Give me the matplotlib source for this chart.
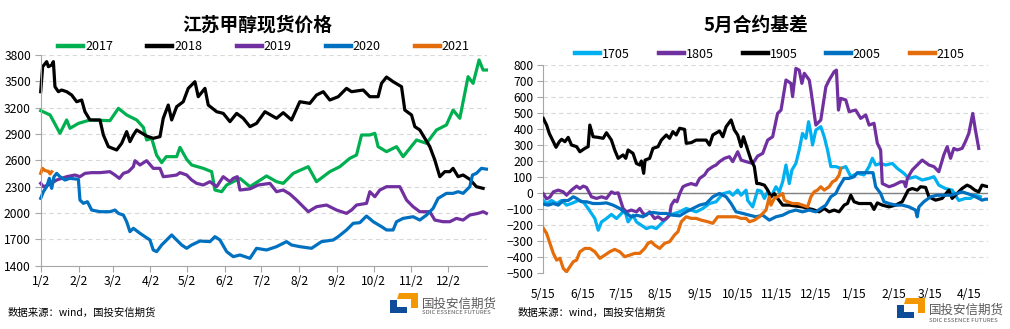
import matplotlib
matplotlib.use("Agg")
import matplotlib.pyplot as plt
from matplotlib.patches import Polygon
from matplotlib.lines import Line2D

plt.rcParams['font.family'] = ['Noto Sans CJK SC', 'DejaVu Sans']

# ---------------- Left chart data: 江苏甲醇现货价格 (day offset from 1/2) ----------------
left_tick_days = [0, 31, 59, 90, 120, 151, 181, 212, 243, 273, 304, 334]
left_tick_labels = ["1/2", "2/2", "3/2", "4/2", "5/2", "6/2", "7/2", "8/2", "9/2", "10/2", "11/2", "12/2"]

d2017 = [0, 7.7, 15.8, 21.3, 24, 30.9, 40.4, 56.8, 63.7, 70.5, 78.7, 84.2, 86.9, 91, 95, 99.2, 103, 111.5,
         114.2, 119.7, 123.8, 133.3, 140.2, 142.9, 148.4, 152.5, 157.9, 163.4, 171.6, 185.2, 193.4, 198.9,
         207.1, 219.4, 226.2, 237.1, 245.3, 253.5, 259, 263.1, 269.9, 274, 276.7, 283.6, 291.8, 297.2,
         302.7, 308.2, 316.4, 324.6, 332.7, 338.2, 343.7, 350.5, 354.6, 359.5, 362.8, 365.5]
v2017 = [3166, 3117, 2908, 3060, 2965, 3021, 3060, 3052, 3192, 3117, 3060, 2976, 2832, 2851, 2661, 2574, 2642, 2642,
         2748, 2612, 2547, 2509, 2471, 2262, 2243, 2319, 2357, 2395, 2300, 2422, 2357, 2338,
         2452, 2528, 2357, 2471, 2528, 2623, 2661, 2889, 2889, 2908, 2756, 2699, 2756, 2642,
         2737, 2832, 2794, 2946, 3003, 3173, 3079, 3553, 3477, 3743, 3629, 3629]

d2018 = [0, 1.6, 4.9, 6.3, 9, 10.4, 11.7, 14.5, 17.2, 21.3, 25.4, 29.5, 33.6, 36.3, 40.4, 48.6, 51.4, 55.5,
         62.3, 66.4, 70.5, 73.2, 76, 78.7, 86.9, 92.3, 97.8, 100.5, 104.6, 107.4, 111.5, 116.9, 121, 126.5,
         129.2, 134.7, 137.4, 144.3, 149.7, 155.2, 160.7, 166.1, 171.6, 177, 183.9, 193.4, 198.9, 205.7,
         212.5, 220.7, 226.2, 231.7, 237.1, 244, 250.8, 254.9, 264.5, 269.9, 276.7, 279.5, 283.6, 289,
         295.9, 298.6, 304.1, 306.8, 310.9, 315, 319.1, 323.2, 327.3, 331.4, 335.5, 338.2, 342.3, 346.4,
         351.9, 357.3, 362.8]
v2018 = [3382, 3667, 3724, 3667, 3686, 3724, 3439, 3382, 3401, 3382, 3344, 3268, 3287, 3154, 3060, 3060, 2889, 2756,
         2718, 2794, 2927, 2813, 2889, 2946, 2877, 2851, 2870, 3079, 3230, 3060, 3211, 3268, 3420, 3496,
         3325, 3420, 3230, 3154, 3135, 3041, 3135, 3079, 2984, 3021, 3154, 3079, 3143, 3060,
         3268, 3249, 3344, 3382, 3287, 3325, 3420, 3382, 3401, 3325, 3325, 3477, 3549, 3496,
         3439, 3173, 3117, 2984, 2946, 2851, 2756, 2604, 2414, 2471, 2471, 2509, 2414, 2433,
         2384, 2300, 2281]

d2019 = [0, 2.2, 6.3, 13.1, 21.3, 28.1, 32.2, 36.3, 41.8, 48.6, 56.8, 60.9, 64.5, 67.8, 71.9, 76, 77.3, 81.4,
         86.9, 92.3, 97.8, 100.5, 106, 111.5, 114.2, 119.7, 123.8, 127.9, 133.3, 138.8, 144.3, 149.7, 155.2,
         157.9, 161.2, 163.4, 171.6, 178.4, 188, 193.4, 198.9, 204.3, 209.8, 215.3, 219.4, 226.2, 234.4,
         242.6, 250.8, 254.9, 259, 267.2, 269.9, 274, 278.1, 283.6, 294.5, 300, 305.4, 310.9, 319.1, 323.2,
         330, 335.5, 340.9, 346.4, 351.9, 358.7, 362.8, 365.5]
v2019 = [2338, 2300, 2319, 2376, 2414, 2433, 2414, 2452, 2460, 2460, 2471, 2433, 2395, 2452, 2471, 2528, 2596, 2547,
         2596, 2509, 2509, 2414, 2422, 2433, 2460, 2433, 2376, 2338, 2319, 2357, 2300, 2414, 2357,
         2395, 2414, 2262, 2275, 2319, 2338, 2243, 2262, 2217, 2148, 2072, 2015, 2072, 2091,
         2034, 1996, 2034, 2091, 2110, 2243, 2186, 2262, 2300, 2300, 2148, 2072, 2015, 2015, 1920,
         1901, 1901, 1939, 1920, 1977, 1996, 2015, 1996]

d2020 = [0, 2.2, 4.9, 7.1, 9, 10.9, 13.1, 15.8, 19.9, 24, 30.9, 32.2, 35, 38.3, 41.8, 48.6, 56.8, 60.9, 63.7,
         67.8, 70.5, 73.2, 76, 81.4, 85.5, 89.6, 92.3, 95.1, 99.2, 107.4, 110.1, 115.6, 119.7, 123.8, 130.6,
         138.8, 142.9, 147, 152.5, 157.9, 163.4, 171.6, 177, 185.2, 193.4, 201.6, 205.7, 212.5, 222.1,
         230.3, 239.9, 244, 250.8, 256.3, 261.7, 267.2, 272.7, 279.5, 283.6, 289, 291.8, 297.2, 305.4,
         310.9, 316.4, 321.8, 325.9, 332.7, 338.2, 342.3, 346.4, 351.9, 354.1, 357.3, 361.4, 365.5]
v2020 = [2167, 2243, 2300, 2395, 2281, 2414, 2452, 2414, 2376, 2395, 2384, 2148, 2110, 2129, 2034, 2015, 2015, 2034, 1996,
         1977, 1901, 1788, 1826, 1769, 1731, 1693, 1579, 1560, 1636, 1750, 1712, 1636, 1598, 1636, 1681,
         1674, 1731, 1693, 1560, 1503, 1522, 1484, 1598, 1579, 1617, 1674, 1636, 1617, 1598,
         1674, 1693, 1731, 1807, 1883, 1890, 1966, 1901, 1845, 1807, 1807, 1901, 1939, 1958,
         1920, 1977, 2053, 2167, 2224, 2224, 2243, 2224, 2300, 2433, 2452, 2509, 2500]

d2021 = [0, 1.4, 3.6, 6.3, 7.7, 9]
v2021 = [2452, 2509, 2483, 2475, 2445, 2470]

# ---------------- Right chart data: 5月合约基差 (day offset from 5/15) ----------------
right_tick_days = [0, 31, 61, 92, 123, 153, 184, 214, 245, 276, 304, 335]
right_tick_labels = ["5/15", "6/15", "7/15", "8/15", "9/15", "10/15", "11/15", "12/15", "1/15", "2/15", "3/15", "4/15"]

d1705 = [0, 2.6, 6.5, 10.5, 14.4, 18.3, 22.2, 27.5, 31.4, 35.3, 37.9, 40.6, 43.2, 45.8, 49.7, 53.6, 57.6, 60.2,
         64.1, 66.7, 70.6, 73.3, 77.2, 81.1, 85, 88.9, 94.2, 99.4, 107.3, 112.5, 120.3, 125.6, 130.8, 136,
         141.3, 146.5, 149.1, 153, 155.7, 159.6, 160.9, 164.8, 168.7, 171.4, 174, 176.6, 179.2, 183.1,
         185.7, 188.4, 191, 193.6, 195.7, 198.8, 201.4, 204, 206.7, 208.8, 210.6, 211.9, 214.5, 218.4,
         221.1, 223.7, 226.3, 230.2, 234.1, 238.1, 242, 247.2, 252.4, 256.4, 259, 261.6, 265.5, 269.5,
         274.7, 278.6, 283.8, 287.8, 293, 298.2, 303.5, 307.4, 311.3, 316.5, 321.8, 327, 332.2, 336.2,
         340.1, 344]
v1705 = [-48, -67, -48, -67, -48, -77, -67, -48, -56, -98, -129, -161, -234, -182, -161, -135, -161, -140,
         -108, -182, -140, -182, -203, -224, -213, -224, -182, -140, -119, -98, -119, -98, -67, -56,
         -6, 6, -15, 17, -15, 17, -48, -88, 17, 10, -35, 6, -25, 38,
         6, 69, 174, 58, 143, 184, 268, 372, 341, 445, 372, 299, 393, 414,
         351, 268, 164, 164, 153, 164, 101, 122, 112, 164, 216, 174, 184, 174,
         184, 153, 122, 90, 101, 80, 90, 101, 48, 27, 17, -48, -35, -35,
         -15, -25]

d1805 = [0, 2.6, 5.2, 7.9, 11.8, 15.7, 18.3, 22.2, 26.2, 28.8, 31.4, 34, 37.9, 41.9, 45.8, 49.7, 53.6, 56.2,
         58.9, 62.8, 65.4, 69.3, 73.3, 75.9, 78.5, 81.1, 83.7, 87.6, 90.3, 94.2, 96.8, 99.4, 100.7, 103.3,
         105.2, 107.3, 109.9, 112.5, 116.4, 120.3, 123, 126.9, 129.5, 133.4, 136, 138.7, 142.6, 146.5,
         149.1, 153, 155.7, 159.6, 164.8, 168.7, 172.7, 176.6, 180.5, 184.4, 187.1, 191, 194.9, 196.2,
         198.8, 201.4, 203.5, 205.4, 209.3, 210.6, 214.5, 218.4, 222.4, 225, 228.9, 230.7, 232.3, 234.1,
         238.1, 240.7, 245.9, 249.8, 253.8, 256.4, 260.3, 262.9, 265.5, 266.8, 272.1, 276, 281.2, 283.8,
         285.2, 286.5, 290.4, 294.3, 298.2, 303.5, 307.4, 311.3, 315.2, 317.9, 320.5, 323.1, 325.7, 329.6,
         332.2, 334.9, 338, 340.1, 342.7]
v1805 = [-6, -38, -27, 6, 17, 6, -15, 17, 42, 27, 42, 34, -25, -35, -25, -35, 6, -4,
         0, -98, -119, -108, -119, -98, -129, -140, -119, -161, -150, -171, -161, -140, -77, -46,
         -56, -6, 38, 48, 58, 48, 90, 112, 143, 164, 174, 195, 216, 226,
         195, 257, 205, 195, 184, 230, 247, 330, 351, 497, 518, 706, 685, 602,
         779, 768, 685, 748, 706, 643, 424, 456, 664, 706, 758, 768, 518, 591,
         581, 508, 518, 466, 487, 424, 435, 310, 268, 58, 38, 48, 69, 69,
         38, 90, 143, 174, 205, 174, 164, 132, 237, 289, 216, 278, 268, 278,
         320, 372, 497, 393, 278]

d1905 = [0, 2.6, 4.7, 7.9, 10, 12.6, 14.4, 17, 19.6, 22.2, 26.2, 28.8, 32.7, 35.3, 36.6, 39.2, 43.2, 47.1,
         49.7, 53.6, 56.2, 58.9, 62.8, 64.9, 66.7, 70.6, 73.3, 75.9, 77.2, 79, 80.1, 83.7, 86.3, 90.3, 92.9,
         96.8, 99.4, 102, 104.6, 107.3, 111.2, 112.5, 116.4, 120.3, 128.2, 130.8, 133.4, 138.7, 141.3,
         143.9, 147.8, 150.4, 153, 155.7, 157.5, 160.9, 163.5, 166.1, 168, 170, 174, 176.6, 179.2, 181.8,
         184.4, 188.4, 193.6, 198.8, 204, 208, 211.9, 217.1, 221.1, 225, 228.9, 232.8, 236.8, 239.4, 242,
         244.6, 248.5, 253.8, 257.7, 260.3, 262.9, 266.8, 272.1, 277.3, 282.5, 287.2, 290.4, 294.3, 296.9,
         300.9, 303.5, 308.7, 313.9, 319.2, 321.8, 325.7, 329.6, 333.5, 336.2, 339.6, 342.7, 345.3, 347.9,
         350.5]
v1905 = [466, 424, 372, 320, 285, 320, 335, 320, 347, 299, 289, 257, 278, 289, 424, 351, 347, 341,
         376, 330, 268, 216, 237, 216, 268, 247, 184, 174, 199, 122, 205, 216, 278, 289, 330,
         362, 341, 383, 362, 404, 397, 310, 314, 330, 330, 299, 362, 387, 351,
         414, 456, 393, 362, 289, 351, 268, 205, 164, 58, 58, 48, 17, -25, -4,
         -35, -77, -77, -83, -88, -98, -104, -119, -98, -119, -108, -119, -77, -67, -15,
         -56, -67, -67, -67, -104, -63, -77, -88, -77, -56, 17, 27, 17, 38,
         34, -25, -46, -35, 17, -35, -4, 27, 48, 38, 17, 6, 48, 42,
         38]

d2005 = [0, 3.9, 7.9, 11.8, 15.7, 19.6, 23.6, 26.2, 30.1, 34, 39.2, 44.5, 49.7, 54.9, 60.2, 65.4, 69.3, 73.3,
         78.5, 82.4, 86.3, 91.6, 96.8, 102, 107.3, 112.5, 117.7, 123, 128.2, 133.4, 138.7, 143.9, 147.8,
         151.7, 157, 162.2, 167.4, 172.7, 177.9, 183.1, 188.4, 193.6, 198.8, 204, 209.3, 214.5, 218.4,
         222.4, 226.3, 230.2, 232.8, 236.8, 240.7, 244.6, 247.2, 251.1, 256.4, 259.5, 261.6, 265.5, 268.1,
         272.1, 277.3, 282.5, 287.8, 293, 294.3, 295.6, 299.5, 304.8, 310, 315.2, 320.5, 325.7, 329.6,
         333.5, 337.5, 342.7, 345.3, 347.9, 350.5]
v2005 = [-71, -77, -67, -77, -48, -48, -25, -35, -56, -56, -67, -67, -63, -77, -98, -129, -150, -140,
         -150, -129, -123, -129, -129, -140, -144, -119, -98, -77, -67, -25, -4, -25, -67,
         -119, -129, -140, -150, -140, -171, -150, -140, -119, -108, -119, -108, -119, -98,
         -77, -25, -4, 38, 90, 90, 101, 126, 126, 126, 126, 38, -4, -56,
         -67, -77, -77, -88, -108, -150, -88, -56, -25, -15, -15, -15, -4, 6,
         -4, -15, -35, -46, -40, -40]

d2105 = [0, 2.6, 5.2, 7.9, 10.5, 13.1, 15.7, 18.3, 20.9, 23.6, 26.2, 28.8, 32.7, 36.6, 40.6, 44.5, 48.4, 52.3,
         56.2, 60.2, 64.1, 68, 71.9, 75.9, 79.8, 82.4, 85, 87.6, 91.6, 95.5, 99.4, 103.3, 106, 108.6, 112.5,
         116.4, 120.3, 124.3, 129.5, 133.4, 137.3, 141.3, 146.5, 151.7, 155.7, 159.6, 162.2, 166.1, 170,
         172.7, 175.3, 177.9, 179.2, 181.8, 184.4, 188.4, 189.7, 192.3, 196.2, 200.1, 204, 208, 210.6,
         213.2, 215.8, 218.4, 221.1, 225, 227.6, 230.2, 232.8, 234.1]
v2105 = [-222, -254, -316, -379, -421, -410, -473, -494, -463, -431, -421, -369, -348, -348, -369, -410, -390, -369,
         -354, -369, -400, -390, -379, -379, -348, -316, -306, -327, -348, -316, -306, -264, -243, -181, -150,
         -160, -160, -171, -181, -191, -150, -150, -150, -150, -160, -160, -181, -171, -150,
         -129, -108, -25, -77, -35, -25, -4, -46, -56, -67, -67, -77, -88, -25,
         6, 17, 38, 17, 38, 69, 80, 111, 153]

# ---------------- styling ----------------
W, H = 1010, 329
fig = plt.figure(figsize=(W / 100, H / 100), dpi=100)
fig.patch.set_facecolor("white")


def fx(x):
    return x / W


def fy(y):
    return 1 - y / H


GRID = "#D9D9D9"
AXC = "#A6A6A6"
LW = 2.3

C_GREEN = "#00B050"
C_BLACK = "#000000"
C_PURPLE = "#7030A0"
C_BLUE = "#0070C0"
C_ORANGE = "#E46C0A"
C_CYAN = "#00B0F0"

# ---- left axes ----
axL = fig.add_axes([fx(40.7), fy(265.7), fx(487) - fx(40.7), fy(55) - fy(265.7)])
axL.set_xlim(0, 366)
axL.set_ylim(1400, 3800)
axL.set_yticks(range(1400, 3801, 300))
axL.set_xticks(left_tick_days)
axL.set_xticklabels(left_tick_labels)
axL.grid(axis="y", color=GRID, linestyle=(0, (4, 3)), linewidth=0.8)
axL.set_axisbelow(True)
for s in ["top", "right"]:
    axL.spines[s].set_visible(False)
for s in ["left", "bottom"]:
    axL.spines[s].set_color(AXC)
    axL.spines[s].set_linewidth(0.8)
axL.tick_params(axis="both", colors=AXC, labelcolor="black", labelsize=8.7, length=4, width=0.8)
axL.tick_params(axis="y", pad=3)
axL.tick_params(axis="x", pad=3)

series_left = [("2017", d2017, v2017, C_GREEN), ("2018", d2018, v2018, C_BLACK),
               ("2019", d2019, v2019, C_PURPLE), ("2020", d2020, v2020, C_BLUE),
               ("2021", d2021, v2021, C_ORANGE)]
for name, d, v, c in series_left:
    axL.plot(d, v, color=c, lw=LW, solid_joinstyle="round", label=name, clip_on=False)

fig.text(fx(257), fy(25), "江苏甲醇现货价格", ha="center", va="center", fontsize=13.5, fontweight="bold")
handlesL = [Line2D([], [], color=c, lw=3.2) for _, _, _, c in series_left]
fig.legend(handlesL, [n for n, _, _, _ in series_left], loc="center", bbox_to_anchor=(fx(264), fy(47)),
           ncol=5, frameon=False, fontsize=9, handlelength=2.0, handletextpad=0.15, columnspacing=2.75,
           borderaxespad=0, borderpad=0)

# ---- right axes ----
axR = fig.add_axes([fx(543.3), fy(272.7), fx(988) - fx(543.3), fy(65) - fy(272.7)])
axR.set_xlim(0, 350)
axR.set_ylim(-500, 800)
axR.set_yticks(range(-500, 801, 100))
axR.set_xticks(right_tick_days)
axR.set_xticklabels(right_tick_labels)
axR.grid(axis="y", color=GRID, linestyle=(0, (4, 3)), linewidth=0.8)
axR.set_axisbelow(True)
for s in ["top", "right", "bottom"]:
    axR.spines[s].set_visible(False)
axR.spines["left"].set_color(AXC)
axR.spines["left"].set_linewidth(0.8)
axR.axhline(0, color="#808080", lw=1.0, zorder=1.5)
axR.tick_params(axis="y", colors=AXC, labelcolor="black", labelsize=8.7, length=4, width=0.8, pad=3)
axR.tick_params(axis="x", length=0, labelsize=8.7, pad=11)

series_right = [("1705", d1705, v1705, C_CYAN), ("1805", d1805, v1805, C_PURPLE),
                ("1905", d1905, v1905, C_BLACK), ("2005", d2005, v2005, C_BLUE),
                ("2105", d2105, v2105, C_ORANGE)]
for name, d, v, c in series_right:
    axR.plot(d, v, color=c, lw=LW, solid_joinstyle="round", label=name, zorder=3)

fig.text(fx(756), fy(25), "5月合约基差", ha="center", va="center", fontsize=13.5, fontweight="bold")
handlesR = [Line2D([], [], color=c, lw=3.2) for _, _, _, c in series_right]
fig.legend(handlesR, [n for n, _, _, _ in series_right], loc="center", bbox_to_anchor=(fx(770), fy(54)),
           ncol=5, frameon=False, fontsize=9, handlelength=2.0, handletextpad=0.15, columnspacing=2.3,
           borderaxespad=0, borderpad=0)

# ---- footers ----
fig.text(fx(8), fy(313), "数据来源：wind，国投安信期货", ha="left", va="center", fontsize=7.5)
fig.text(fx(518), fy(313), "数据来源：wind，国投安信期货", ha="left", va="center", fontsize=7.5)


def logo(x0, y0, tx, ty1, ty2):
    # blue L (bottom-left), orange L (top-right); coordinates in pixels
    blue = [(x0, y0 + 7), (x0 + 7, y0 + 7), (x0 + 7, y0 + 14), (x0 + 17, y0 + 14), (x0 + 17, y0 + 20),
            (x0, y0 + 20)]
    orange = [(x0 + 9, y0 + 0), (x0 + 28, y0 + 0), (x0 + 28, y0 + 15), (x0 + 21, y0 + 15), (x0 + 21, y0 + 6),
              (x0 + 7, y0 + 6)]
    for pts, col in [(blue, "#0E4C9A"), (orange, "#F39800")]:
        fig.patches.append(Polygon([(fx(a), fy(b)) for a, b in pts], closed=True, transform=fig.transFigure,
                                   facecolor=col, edgecolor="none", figure=fig))
    fig.text(fx(tx), fy(ty1), "国投安信期货", ha="left", va="center", fontsize=9, color="#595959")
    fig.text(fx(tx), fy(ty2), "SDIC ESSENCE FUTURES", ha="left", va="center", fontsize=4.3, color="#595959")


logo(390, 293, 422, 304, 312.5)
logo(897, 298, 929, 310, 320)

fig.savefig("out.png", dpi=100, facecolor="white")
